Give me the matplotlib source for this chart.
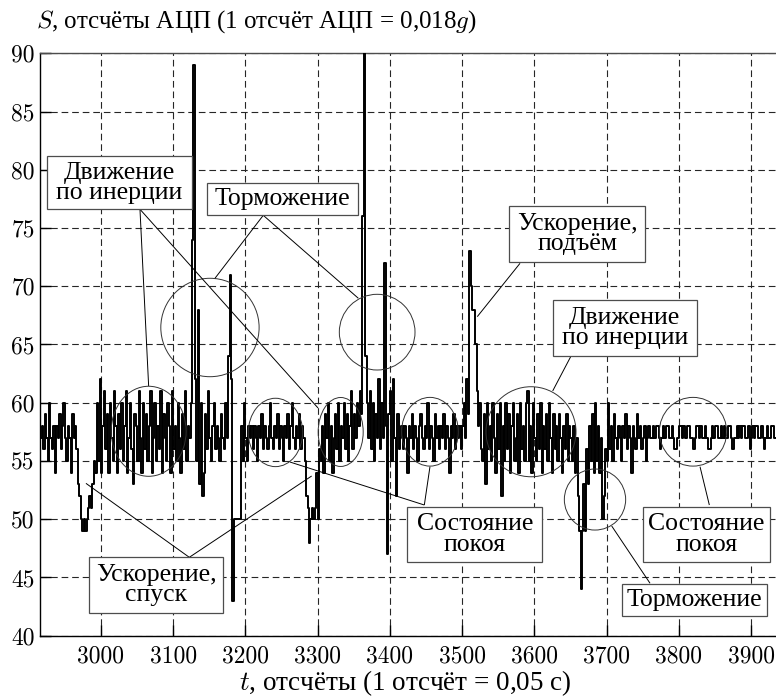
import numpy as np
import matplotlib
matplotlib.use("Agg")
import matplotlib.pyplot as plt
from matplotlib.patches import Ellipse, Rectangle

plt.rcParams['mathtext.fontset'] = 'cm'

# ---------------- data (ADC counts, one value every 2 samples) ----------------
T_START = 2916
T_STEP = 2

seg_rest_start = [57, 58, 56, 59, 57, 55, 60, 57, 56, 58, 54, 58, 57, 59, 56, 58, 60, 57, 55, 58,
                  57, 54, 59, 57, 58, 56]
seg_descent_1 = [53, 52, 50, 49, 50, 49, 50, 51, 52, 51, 53, 55, 54]
seg_coast_1 = [60, 55, 62, 54, 58, 61, 56, 59, 54, 60,
               57, 55, 61, 58, 54, 59, 56, 60, 55, 58,
               61, 54, 57, 60, 56, 53, 59, 58, 55, 61,
               57, 54, 60, 56, 59, 55, 58, 61, 54, 57,
               60, 55, 58, 56, 61, 54, 59, 57, 55, 60,
               58, 54, 61, 56, 58, 55, 60, 57, 54, 59,
               56, 61, 55, 58, 57, 60]
seg_brake_1 = [74, 89, 62, 55, 68, 53, 60, 52, 54, 59,
               56, 61, 57, 55, 58, 60, 56, 58, 57, 55,
               59, 57, 56, 60, 57, 64, 71, 62, 43, 50,
               50, 50, 50, 50, 58, 55, 60, 57, 55, 58]
seg_rest_1 = [57, 58, 56, 58, 57, 55, 58, 57, 59, 56,
              58, 57, 56, 58, 60, 57, 56, 58, 57, 59,
              56, 58, 57, 55, 58, 57, 59, 56, 58, 60,
              57, 56, 58, 57, 59, 56, 58, 57, 55]
seg_descent_2 = [52, 51, 48, 50, 51, 50, 51, 54, 50, 56]
seg_coast_2 = [55, 58, 54, 59, 57, 60, 55, 58, 54, 57,
               59, 56, 60, 55, 58, 57, 60, 56, 59, 55,
               58, 61, 56, 59, 57, 60, 58, 61, 59]
seg_brake_2 = [76, 95, 64, 60, 57, 61, 56, 60, 55, 59,
               57, 62, 56, 60, 57, 72, 58, 47, 59, 61,
               55, 62, 57, 52, 59, 56]
seg_rest_2 = [57, 58, 56, 58, 57, 54, 58, 57, 59, 56,
              58, 57, 55, 58, 59, 57, 56, 58, 57, 60,
              56, 58, 57, 55, 59, 57, 58, 56, 58, 57,
              59, 56, 58, 57, 54, 58, 57, 59, 56, 58,
              57, 58, 56]
seg_ascent = [58, 60, 57, 62, 59, 73, 70, 68, 68, 65, 61, 58, 60, 56]
seg_coast_3 = [55, 59, 53, 60, 56, 58, 55, 60, 57, 54,
               59, 56, 60, 52, 58, 55, 60, 56, 59, 54,
               58, 60, 55, 57, 59, 54, 60, 56, 58, 55,
               60, 61, 55, 58, 54, 60, 57, 55, 59, 56,
               60, 54, 58, 56, 59, 55, 60, 57, 54, 59,
               56, 58, 55, 59, 57, 54, 58, 56, 59, 55,
               58, 57]
seg_brake_3 = [55, 58, 54, 57, 52, 49, 44, 49, 53, 49,
               56, 53, 58, 55, 59, 54, 60, 55, 58, 54,
               57, 50, 52, 56, 55, 60, 56, 58, 55, 59, 57]
seg_settle = [56, 58, 57, 55, 58, 57, 59, 56, 58, 57,
              54, 58, 57, 56, 59, 57, 58, 56, 57, 58,
              55, 57, 58, 57]
seg_rest_end = [57, 58, 57, 58, 58, 57, 56, 57, 58, 57,
                58, 58, 57, 57, 58, 57, 56, 56, 57, 58,
                58, 57, 58, 57, 57, 58, 58, 57, 57, 56,
                57, 58, 58, 57, 58, 57, 57, 58, 57, 56,
                56, 57, 58, 57, 58, 58, 57, 57, 58, 57,
                58, 57, 57, 58, 58, 57, 56, 57, 57, 58,
                57, 58, 57, 58, 58, 57, 57, 58, 56, 57,
                58, 57, 58, 58, 57, 57, 58, 57, 56, 57,
                58, 57, 57, 58, 58, 57, 57]

x_ticks = [3000, 3100, 3200, 3300, 3400, 3500, 3600, 3700, 3800, 3900]
y_ticks = [40, 45, 50, 55, 60, 65, 70, 75, 80, 85, 90]

signal = np.array(seg_rest_start + seg_descent_1 + seg_coast_1 + seg_brake_1 + seg_rest_1 +
                  seg_descent_2 + seg_coast_2 + seg_brake_2 + seg_rest_2 + seg_ascent +
                  seg_coast_3 + seg_brake_3 + seg_settle + seg_rest_end)
t = T_START + T_STEP * np.arange(len(signal))

# ---------------- annotations (data coordinates) ----------------
ellipses = [
    (3066.0, 57.55, 103.8, 7.73),
    (3150.9, 66.46, 136.1, 8.45),
    (3241.6, 57.45, 75.2, 5.87),
    (3331.9, 57.49, 62.3, 5.92),
    (3382.4, 66.06, 104.8, 6.50),
    (3455.5, 57.51, 78.5, 5.90),
    (3595.4, 57.51, 124.6, 7.73),
    (3819.7, 57.51, 93.2, 5.90),
    (3684.0, 51.69, 84.9, 5.24),
]
boxes = [
    (2925.2, 3126.0, 76.61, 81.18, "Движение\nпо инерции"),
    (3146.3, 3355.4, 76.09, 78.84, "Торможение"),
    (3565.4, 3753.3, 72.11, 76.89, "Ускорение,\nподъём"),
    (3625.4, 3824.8, 64.01, 68.82, "Движение\nпо инерции"),
    (2983.4, 3169.3, 41.92, 46.73, "Ускорение,\nспуск"),
    (3424.1, 3611.1, 46.30, 51.07, "Состояние\nпокоя"),
    (3750.9, 3926.3, 46.30, 51.07, "Состояние\nпокоя"),
    (3721.8, 3921.8, 41.69, 44.41, "Торможение"),
]
leaders = [
    (3054.0, 76.61, 3066.0, 61.44),
    (3054.0, 76.61, 3300.5, 59.55),
    (3224.7, 76.09, 3157.8, 70.68),
    (3224.7, 76.09, 3356.3, 68.97),
    (3580.2, 71.97, 3521.0, 67.39),
    (3650.8, 64.01, 3625.4, 61.01),
    (3122.3, 46.73, 2979.2, 53.08),
    (3122.3, 46.73, 3291.7, 53.71),
    (3447.7, 51.22, 3455.5, 54.51),
    (3447.7, 51.22, 3261.7, 54.91),
    (3842.3, 51.22, 3829.4, 54.51),
    (3760.2, 44.50, 3707.1, 49.42),
]

# ---------------- figure ----------------
W, H = 776, 699
fig = plt.figure(figsize=(W / 100, H / 100), dpi=100)
ax = fig.add_axes([40.3 / W, 63.3 / H, (W - 40.3) / W, 582.4 / H])

ax.step(t, signal, where='post', color='black', lw=1.4, zorder=3)

ax.set_xlim(2916, 3934.6)
ax.set_ylim(40, 90)
ax.set_xticks(x_ticks)
ax.set_yticks(y_ticks)
ax.set_xticklabels([str(v) for v in x_ticks], fontfamily='cmr10', fontsize=17)
ax.set_yticklabels([str(v) for v in y_ticks], fontfamily='cmr10', fontsize=17)
ax.tick_params(direction='in', length=8, width=1.0, color='black')
ax.tick_params(axis='x', pad=7)
ax.tick_params(axis='y', pad=4)
ax.set_axisbelow(True)
ax.grid(True, color='0.15', lw=0.8, linestyle=(0, (6, 3.5)))
ax.spines['right'].set_visible(False)
for s in ('left', 'top', 'bottom'):
    ax.spines[s].set_linewidth(1.0)
ax.spines['top'].set_color('0.3')

for (ct, cs, w, h) in ellipses:
    ax.add_patch(Ellipse((ct, cs), w, h, fill=False, edgecolor='0.2', lw=0.7, zorder=4))

for (t0, s0, t1, s1) in leaders:
    ax.plot([t0, t1], [s0, s1], color='black', lw=0.7, zorder=5, solid_capstyle='butt')

for (t0, t1, sb, st, lab) in boxes:
    ax.add_patch(Rectangle((t0, sb), t1 - t0, st - sb, facecolor='white', edgecolor='0.3',
                           lw=0.9, zorder=6))
    ax.text((t0 + t1) / 2, (sb + st) / 2, lab, ha='center', va='center', fontsize=18.5,
            fontfamily='Liberation Serif', linespacing=0.9, zorder=7)

fig.text(36 / W, 1 - 22 / H, "$S$, отсчёты АЦП (1 отсчёт АЦП = 0,018$g$)",
         ha='left', va='center', fontsize=18, fontfamily='Liberation Serif')
fig.text(405 / W, 1 - 683 / H, "$t$, отсчёты (1 отсчёт = 0,05 с)",
         ha='center', va='center', fontsize=19.5, fontfamily='Liberation Serif')

fig.savefig("out.png", dpi=100)
